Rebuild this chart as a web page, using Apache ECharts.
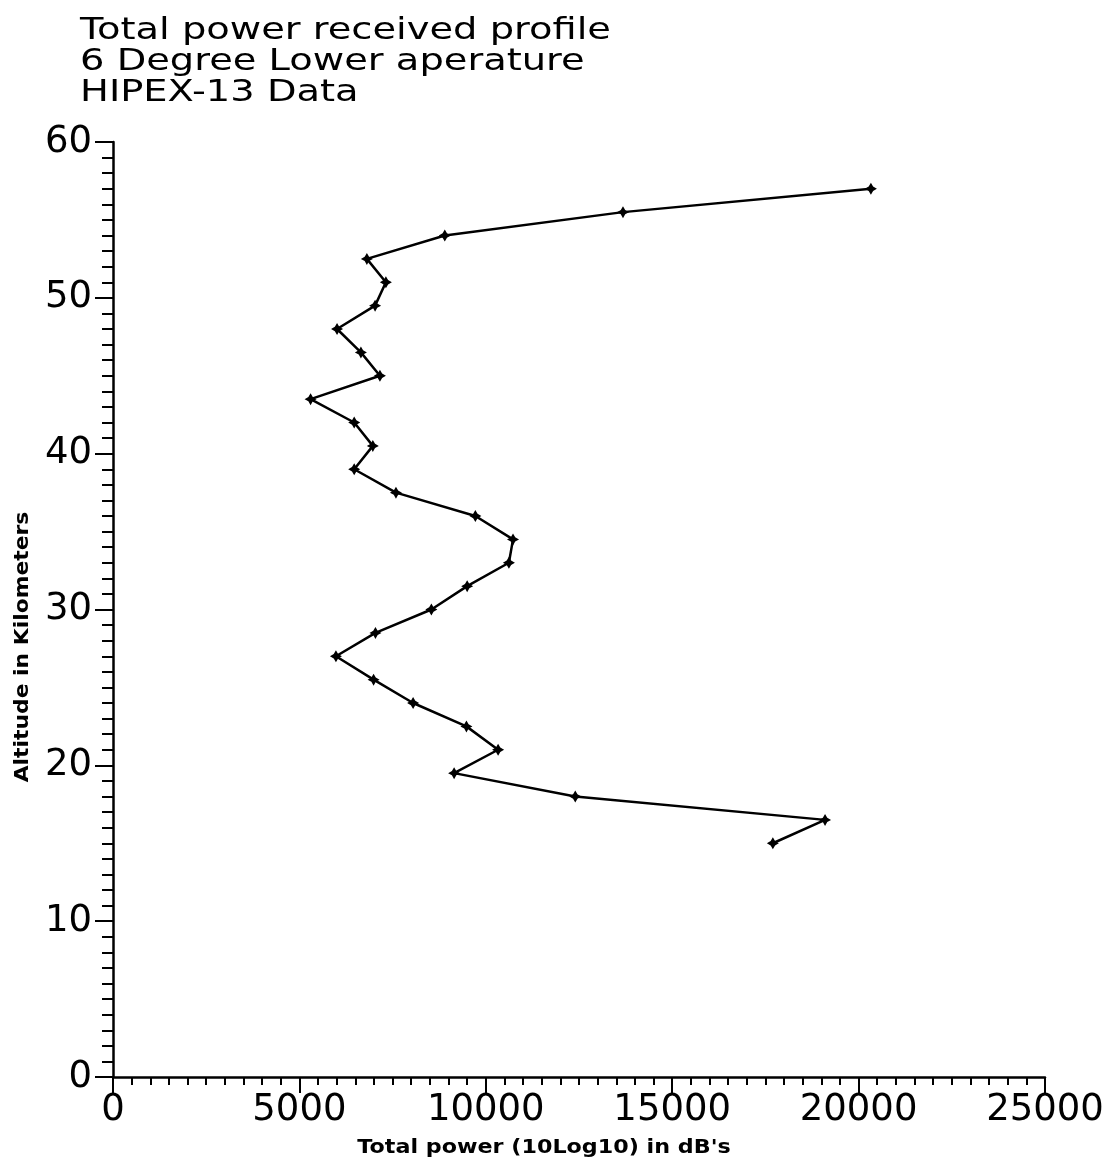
<!DOCTYPE html>
<html>
<head>
<meta charset="utf-8">
<title>Total power received profile</title>
<script src="https://cdn.jsdelivr.net/npm/echarts@6/dist/echarts.min.js"></script>
<style>
  html, body { margin: 0; padding: 0; background: #fff; }
  #chart { width: 1102px; height: 1166px; }
</style>
</head>
<body>
<div id="chart"></div>
<script>
// Altitude samples (km) and total received power at each altitude
const altitudeKm = [15, 16.5, 18, 19.5, 21, 22.5, 24, 25.5, 27, 28.5, 30, 31.5, 33, 34.5, 36,
                    37.5, 39, 40.5, 42, 43.5, 45, 46.5, 48, 49.5, 51, 52.5, 54, 55.5, 57];
const totalPower = [17700, 19100, 12400, 9150, 10330, 9480, 8050, 6990, 5980, 7040, 8540, 9500,
                    10620, 10730, 9720, 7590, 6470, 6970, 6470, 5300, 7160, 6650, 6010, 7030,
                    7320, 6810, 8900, 13680, 20330];

const titleLines = ['Total power received profile', '6 Degree Lower aperature', 'HIPEX-13 Data'];
const xAxisName = "Total power (10Log10) in dB's";
const yAxisName = 'Altitude in Kilometers';

const points = altitudeKm.map((a, i) => [totalPower[i], a]);

const FONT = '"DejaVu Sans", "Liberation Sans", sans-serif';
const chart = echarts.init(document.getElementById('chart'), null, { renderer: 'canvas' });

const titleGraphics = titleLines.map((t, i) => ({
  type: 'text',
  x: 80,
  y: 31 + i * 31,
  scaleX: 1.28,
  style: {
    text: t, x: 0, y: 0,
    font: '30px ' + FONT,
    fill: '#000',
    textAlign: 'left',
    textVerticalAlign: 'middle'
  }
}));

const axisStyle = {
  axisLine: { show: true, onZero: false, lineStyle: { color: '#000', width: 2.5 } },
  splitLine: { show: false },
  minorSplitLine: { show: false }
};

chart.setOption({
  backgroundColor: '#fff',
  animation: false,
  grid: { left: 113, right: 57, top: 142, bottom: 89, containLabel: false, outerBoundsMode: 'none' },
  xAxis: {
    type: 'value',
    min: 0, max: 25000, interval: 5000,
    ...axisStyle,
    axisTick: { show: true, inside: false, length: 16, lineStyle: { color: '#000', width: 2 } },
    minorTick: { show: true, splitNumber: 10, length: 8, lineStyle: { color: '#000', width: 2 } },
    axisLabel: {
      margin: 15, color: '#000', fontSize: 37, fontFamily: FONT,
      formatter: v => String(v)
    }
  },
  yAxis: {
    type: 'value',
    min: 0, max: 60, interval: 10,
    ...axisStyle,
    axisTick: { show: true, inside: false, length: 18, lineStyle: { color: '#000', width: 2 } },
    minorTick: { show: true, splitNumber: 10, length: 11, lineStyle: { color: '#000', width: 2 } },
    axisLabel: { margin: 21, color: '#000', fontSize: 37, fontFamily: FONT }
  },
  graphic: [
    ...titleGraphics,
    {
      type: 'text',
      x: 544, y: 1148,
      scaleX: 1.17,
      style: {
        text: xAxisName, x: 0, y: 0,
        font: 'bold 19px ' + FONT,
        fill: '#000', textAlign: 'center', textVerticalAlign: 'middle'
      }
    },
    {
      type: 'text',
      x: 23, y: 647,
      rotation: Math.PI / 2,
      scaleX: 1.15,
      style: {
        text: yAxisName, x: 0, y: 0,
        font: 'bold 19px ' + FONT,
        fill: '#000', textAlign: 'center', textVerticalAlign: 'middle'
      }
    }
  ],
  series: [{
    type: 'line',
    data: points,
    symbol: 'path://M0,-6 L2.2,-2.2 6,0 2.2,2.2 0,6 -2.2,2.2 -6,0 -2.2,-2.2 Z',
    symbolSize: 12,
    showAllSymbol: true,
    itemStyle: { color: '#000' },
    lineStyle: { color: '#000', width: 2.5 },
    emphasis: { disabled: true }
  }]
});
</script>
</body>
</html>
